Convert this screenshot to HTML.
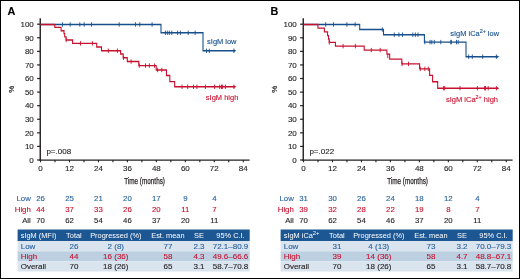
<!DOCTYPE html>
<html><head><meta charset="utf-8"><style>
html,body{margin:0;padding:0;background:#fff;}
svg{display:block;will-change:transform;}
text{font-family:"Liberation Sans",sans-serif;}
</style></head><body>
<svg width="520" height="279" viewBox="0 0 520 279">
<rect x="0" y="0" width="520" height="279" fill="#fff"/>
<text x="7.5" y="15.0" font-size="10.8" font-weight="bold" fill="#000" stroke="#000" stroke-width="0.12">A</text>
<line x1="40.25" y1="18.2" x2="40.25" y2="160.8" stroke="#231f20" stroke-width="1.4"/>
<line x1="37.1" y1="160.00" x2="40.5" y2="160.00" stroke="#231f20" stroke-width="1.2"/>
<text x="33.8" y="162.75" font-size="8.0" text-anchor="end" fill="#231f20" stroke="#231f20" stroke-width="0.12">0</text>
<line x1="37.1" y1="146.42" x2="40.5" y2="146.42" stroke="#231f20" stroke-width="1.2"/>
<text x="33.8" y="149.17" font-size="8.0" text-anchor="end" fill="#231f20" stroke="#231f20" stroke-width="0.12">10</text>
<line x1="37.1" y1="132.84" x2="40.5" y2="132.84" stroke="#231f20" stroke-width="1.2"/>
<text x="33.8" y="135.59" font-size="8.0" text-anchor="end" fill="#231f20" stroke="#231f20" stroke-width="0.12">20</text>
<line x1="37.1" y1="119.26" x2="40.5" y2="119.26" stroke="#231f20" stroke-width="1.2"/>
<text x="33.8" y="122.01" font-size="8.0" text-anchor="end" fill="#231f20" stroke="#231f20" stroke-width="0.12">30</text>
<line x1="37.1" y1="105.68" x2="40.5" y2="105.68" stroke="#231f20" stroke-width="1.2"/>
<text x="33.8" y="108.43" font-size="8.0" text-anchor="end" fill="#231f20" stroke="#231f20" stroke-width="0.12">40</text>
<line x1="37.1" y1="92.10" x2="40.5" y2="92.10" stroke="#231f20" stroke-width="1.2"/>
<text x="33.8" y="94.85" font-size="8.0" text-anchor="end" fill="#231f20" stroke="#231f20" stroke-width="0.12">50</text>
<line x1="37.1" y1="78.52" x2="40.5" y2="78.52" stroke="#231f20" stroke-width="1.2"/>
<text x="33.8" y="81.27" font-size="8.0" text-anchor="end" fill="#231f20" stroke="#231f20" stroke-width="0.12">60</text>
<line x1="37.1" y1="64.94" x2="40.5" y2="64.94" stroke="#231f20" stroke-width="1.2"/>
<text x="33.8" y="67.69" font-size="8.0" text-anchor="end" fill="#231f20" stroke="#231f20" stroke-width="0.12">70</text>
<line x1="37.1" y1="51.36" x2="40.5" y2="51.36" stroke="#231f20" stroke-width="1.2"/>
<text x="33.8" y="54.11" font-size="8.0" text-anchor="end" fill="#231f20" stroke="#231f20" stroke-width="0.12">80</text>
<line x1="37.1" y1="37.78" x2="40.5" y2="37.78" stroke="#231f20" stroke-width="1.2"/>
<text x="33.8" y="40.53" font-size="8.0" text-anchor="end" fill="#231f20" stroke="#231f20" stroke-width="0.12">90</text>
<line x1="37.1" y1="24.20" x2="40.5" y2="24.20" stroke="#231f20" stroke-width="1.2"/>
<text x="33.8" y="26.95" font-size="8.0" text-anchor="end" fill="#231f20" stroke="#231f20" stroke-width="0.12">100</text>
<line x1="39.6" y1="160.1" x2="249.6" y2="160.1" stroke="#231f20" stroke-width="1.4"/>
<line x1="40.50" y1="160" x2="40.50" y2="162.3" stroke="#231f20" stroke-width="1.1"/>
<text x="40.50" y="171.0" font-size="8.0" text-anchor="middle" fill="#231f20" stroke="#231f20" stroke-width="0.12">0</text>
<line x1="54.98" y1="160" x2="54.98" y2="162.3" stroke="#231f20" stroke-width="1.1"/>
<line x1="69.47" y1="160" x2="69.47" y2="162.3" stroke="#231f20" stroke-width="1.1"/>
<text x="69.47" y="171.0" font-size="8.0" text-anchor="middle" fill="#231f20" stroke="#231f20" stroke-width="0.12">12</text>
<line x1="83.95" y1="160" x2="83.95" y2="162.3" stroke="#231f20" stroke-width="1.1"/>
<line x1="98.44" y1="160" x2="98.44" y2="162.3" stroke="#231f20" stroke-width="1.1"/>
<text x="98.44" y="171.0" font-size="8.0" text-anchor="middle" fill="#231f20" stroke="#231f20" stroke-width="0.12">24</text>
<line x1="112.92" y1="160" x2="112.92" y2="162.3" stroke="#231f20" stroke-width="1.1"/>
<line x1="127.40" y1="160" x2="127.40" y2="162.3" stroke="#231f20" stroke-width="1.1"/>
<text x="127.40" y="171.0" font-size="8.0" text-anchor="middle" fill="#231f20" stroke="#231f20" stroke-width="0.12">36</text>
<line x1="141.89" y1="160" x2="141.89" y2="162.3" stroke="#231f20" stroke-width="1.1"/>
<line x1="156.37" y1="160" x2="156.37" y2="162.3" stroke="#231f20" stroke-width="1.1"/>
<text x="156.37" y="171.0" font-size="8.0" text-anchor="middle" fill="#231f20" stroke="#231f20" stroke-width="0.12">48</text>
<line x1="170.86" y1="160" x2="170.86" y2="162.3" stroke="#231f20" stroke-width="1.1"/>
<line x1="185.34" y1="160" x2="185.34" y2="162.3" stroke="#231f20" stroke-width="1.1"/>
<text x="185.34" y="171.0" font-size="8.0" text-anchor="middle" fill="#231f20" stroke="#231f20" stroke-width="0.12">60</text>
<line x1="199.82" y1="160" x2="199.82" y2="162.3" stroke="#231f20" stroke-width="1.1"/>
<line x1="214.31" y1="160" x2="214.31" y2="162.3" stroke="#231f20" stroke-width="1.1"/>
<text x="214.31" y="171.0" font-size="8.0" text-anchor="middle" fill="#231f20" stroke="#231f20" stroke-width="0.12">72</text>
<line x1="228.79" y1="160" x2="228.79" y2="162.3" stroke="#231f20" stroke-width="1.1"/>
<line x1="243.28" y1="160" x2="243.28" y2="162.3" stroke="#231f20" stroke-width="1.1"/>
<text x="243.28" y="171.0" font-size="8.0" text-anchor="middle" fill="#231f20" stroke="#231f20" stroke-width="0.12">84</text>
<text x="124.2" y="183.9" font-size="8.6" textLength="40.8" lengthAdjust="spacingAndGlyphs" fill="#231f20" stroke="#231f20" stroke-width="0.25">Time (months)</text>
<text transform="translate(14.4,89.3) rotate(-90)" font-size="7.9" text-anchor="middle" fill="#231f20" stroke="#231f20" stroke-width="0.25">%</text>
<text x="46.4" y="153.5" font-size="8" fill="#231f20" stroke="#231f20" stroke-width="0.12">p=.008</text>
<path transform="scale(0.78,1)" d="M51.923,24.45H206.410V32.8H260.256V50.8H300.641" stroke="#174f8c" stroke-width="1.4" fill="none" stroke-linejoin="miter"/>
<path d="M62.50,22.25V26.65M70.20,22.25V26.65M79.80,22.25V26.65M84.20,22.25V26.65M91.50,22.25V26.65M119.20,22.25V26.65M135.50,22.25V26.65M139.80,22.25V26.65M152.10,22.25V26.65M165.40,30.60V35.00M167.30,30.60V35.00M169.30,30.60V35.00M171.80,30.60V35.00M177.60,30.60V35.00M180.35,30.60V35.00M188.20,30.60V35.00M195.10,30.60V35.00M206.50,48.60V53.00M209.30,48.60V53.00M233.90,48.60V53.00" stroke="#174f8c" stroke-width="0.9" fill="none"/>
<path transform="scale(0.78,1)" d="M51.923,24.45H70.256V27.4H78.333V30.7H82.051V33.6H82.949V36.9H84.744V40.0H93.077V43.4H123.974V47.0H130.128V50.7H154.615V54.0H157.821V57.7H163.205V61.55H177.949V65.6H200.256V70.0H213.462V75.5H217.692V81.6H223.974V86.8H300.641" stroke="#c8102e" stroke-width="1.4" fill="none" stroke-linejoin="miter"/>
<path d="M66.20,37.80V42.20M80.50,41.20V45.60M92.40,41.20V45.60M108.30,48.50V52.90M117.40,48.50V52.90M123.50,55.50V59.90M131.10,59.35V63.75M139.30,63.40V67.80M145.50,63.40V67.80M149.40,63.40V67.80M154.60,63.40V67.80M157.60,67.80V72.20M161.80,67.80V72.20M182.00,84.60V89.00M187.70,84.60V89.00M193.50,84.60V89.00M196.90,84.60V89.00M205.40,84.60V89.00M214.60,84.60V89.00M219.70,84.60V89.00M221.50,84.60V89.00M222.40,84.60V89.00M225.40,84.60V89.00M233.90,84.60V89.00" stroke="#c8102e" stroke-width="0.9" fill="none"/>
<path d="M233.90,49.55L236.40,50.80L233.90,52.05Z" fill="#174f8c"/>
<path d="M233.90,85.55L236.40,86.80L233.90,88.05Z" fill="#c8102e"/>
<text x="207.1" y="44.1" font-size="7.45" fill="#174f8c" stroke="#174f8c" stroke-width="0.12">sIgM low</text>
<text x="205.8" y="99.7" font-size="7.5" fill="#c8102e" stroke="#c8102e" stroke-width="0.12">sIgM high</text>
<text x="30.8" y="200.6" font-size="7.8" text-anchor="end" fill="#2a62a0" stroke="#2a62a0" stroke-width="0.12">Low</text>
<text x="40.50" y="200.6" font-size="7.8" text-anchor="middle" fill="#2a62a0" stroke="#2a62a0" stroke-width="0.12">26</text>
<text x="69.47" y="200.6" font-size="7.8" text-anchor="middle" fill="#2a62a0" stroke="#2a62a0" stroke-width="0.12">25</text>
<text x="98.44" y="200.6" font-size="7.8" text-anchor="middle" fill="#2a62a0" stroke="#2a62a0" stroke-width="0.12">21</text>
<text x="127.40" y="200.6" font-size="7.8" text-anchor="middle" fill="#2a62a0" stroke="#2a62a0" stroke-width="0.12">20</text>
<text x="156.37" y="200.6" font-size="7.8" text-anchor="middle" fill="#2a62a0" stroke="#2a62a0" stroke-width="0.12">17</text>
<text x="185.34" y="200.6" font-size="7.8" text-anchor="middle" fill="#2a62a0" stroke="#2a62a0" stroke-width="0.12">9</text>
<text x="214.31" y="200.6" font-size="7.8" text-anchor="middle" fill="#2a62a0" stroke="#2a62a0" stroke-width="0.12">4</text>
<text x="30.8" y="211.6" font-size="7.8" text-anchor="end" fill="#c8102e" stroke="#c8102e" stroke-width="0.12">High</text>
<text x="40.50" y="211.6" font-size="7.8" text-anchor="middle" fill="#c8102e" stroke="#c8102e" stroke-width="0.12">44</text>
<text x="69.47" y="211.6" font-size="7.8" text-anchor="middle" fill="#c8102e" stroke="#c8102e" stroke-width="0.12">37</text>
<text x="98.44" y="211.6" font-size="7.8" text-anchor="middle" fill="#c8102e" stroke="#c8102e" stroke-width="0.12">33</text>
<text x="127.40" y="211.6" font-size="7.8" text-anchor="middle" fill="#c8102e" stroke="#c8102e" stroke-width="0.12">26</text>
<text x="156.37" y="211.6" font-size="7.8" text-anchor="middle" fill="#c8102e" stroke="#c8102e" stroke-width="0.12">20</text>
<text x="185.34" y="211.6" font-size="7.8" text-anchor="middle" fill="#c8102e" stroke="#c8102e" stroke-width="0.12">11</text>
<text x="214.31" y="211.6" font-size="7.8" text-anchor="middle" fill="#c8102e" stroke="#c8102e" stroke-width="0.12">7</text>
<text x="30.8" y="222.6" font-size="7.8" text-anchor="end" fill="#231f20" stroke="#231f20" stroke-width="0.12">All</text>
<text x="40.50" y="222.6" font-size="7.8" text-anchor="middle" fill="#231f20" stroke="#231f20" stroke-width="0.12">70</text>
<text x="69.47" y="222.6" font-size="7.8" text-anchor="middle" fill="#231f20" stroke="#231f20" stroke-width="0.12">62</text>
<text x="98.44" y="222.6" font-size="7.8" text-anchor="middle" fill="#231f20" stroke="#231f20" stroke-width="0.12">54</text>
<text x="127.40" y="222.6" font-size="7.8" text-anchor="middle" fill="#231f20" stroke="#231f20" stroke-width="0.12">46</text>
<text x="156.37" y="222.6" font-size="7.8" text-anchor="middle" fill="#231f20" stroke="#231f20" stroke-width="0.12">37</text>
<text x="185.34" y="222.6" font-size="7.8" text-anchor="middle" fill="#231f20" stroke="#231f20" stroke-width="0.12">20</text>
<text x="214.31" y="222.6" font-size="7.8" text-anchor="middle" fill="#231f20" stroke="#231f20" stroke-width="0.12">11</text>
<rect x="17.6" y="229.5" width="232.10" height="11.5" fill="#1d5793"/>
<rect x="17.6" y="241" width="232.10" height="10.3" fill="#dae4ee"/>
<rect x="17.6" y="251.3" width="232.10" height="10.1" fill="#bcd0e2"/>
<rect x="17.6" y="261.4" width="232.10" height="10.1" fill="#dae4ee"/>
<text x="20.7" y="237.9" font-size="7.4" text-anchor="start" fill="#fff">sIgM (MFI)</text>
<text x="73.9" y="237.9" font-size="7.4" text-anchor="middle" fill="#fff">Total</text>
<text x="115.8" y="237.9" font-size="7.4" text-anchor="middle" fill="#fff">Progressed (%)</text>
<text x="167.9" y="237.9" font-size="7.4" text-anchor="middle" fill="#fff">Est. mean</text>
<text x="199" y="237.9" font-size="7.4" text-anchor="middle" fill="#fff">SE</text>
<text x="230.5" y="237.9" font-size="7.4" text-anchor="middle" fill="#fff">95% C.I.</text>
<text x="20.7" y="249.1" font-size="8.0" text-anchor="start" fill="#2a62a0" stroke="#2a62a0" stroke-width="0.12">Low</text>
<text x="73.9" y="249.1" font-size="8.0" text-anchor="middle" fill="#2a62a0" stroke="#2a62a0" stroke-width="0.12">26</text>
<text x="115.8" y="249.1" font-size="8.0" text-anchor="middle" fill="#2a62a0" stroke="#2a62a0" stroke-width="0.12">2 (8)</text>
<text x="167.9" y="249.1" font-size="8.0" text-anchor="middle" fill="#2a62a0" stroke="#2a62a0" stroke-width="0.12">77</text>
<text x="199" y="249.1" font-size="8.0" text-anchor="middle" fill="#2a62a0" stroke="#2a62a0" stroke-width="0.12">2.3</text>
<text x="230.5" y="249.1" font-size="8.0" text-anchor="middle" fill="#2a62a0" stroke="#2a62a0" stroke-width="0.12">72.1–80.9</text>
<text x="20.7" y="259.1" font-size="8.0" text-anchor="start" fill="#c8102e" stroke="#c8102e" stroke-width="0.12">High</text>
<text x="73.9" y="259.1" font-size="8.0" text-anchor="middle" fill="#c8102e" stroke="#c8102e" stroke-width="0.12">44</text>
<text x="115.8" y="259.1" font-size="8.0" text-anchor="middle" fill="#c8102e" stroke="#c8102e" stroke-width="0.12">16 (36)</text>
<text x="167.9" y="259.1" font-size="8.0" text-anchor="middle" fill="#c8102e" stroke="#c8102e" stroke-width="0.12">58</text>
<text x="199" y="259.1" font-size="8.0" text-anchor="middle" fill="#c8102e" stroke="#c8102e" stroke-width="0.12">4.3</text>
<text x="230.5" y="259.1" font-size="8.0" text-anchor="middle" fill="#c8102e" stroke="#c8102e" stroke-width="0.12">49.6–66.6</text>
<text x="20.7" y="269.1" font-size="8.0" text-anchor="start" fill="#231f20" stroke="#231f20" stroke-width="0.12">Overall</text>
<text x="73.9" y="269.1" font-size="8.0" text-anchor="middle" fill="#231f20" stroke="#231f20" stroke-width="0.12">70</text>
<text x="115.8" y="269.1" font-size="8.0" text-anchor="middle" fill="#231f20" stroke="#231f20" stroke-width="0.12">18 (26)</text>
<text x="167.9" y="269.1" font-size="8.0" text-anchor="middle" fill="#231f20" stroke="#231f20" stroke-width="0.12">65</text>
<text x="199" y="269.1" font-size="8.0" text-anchor="middle" fill="#231f20" stroke="#231f20" stroke-width="0.12">3.1</text>
<text x="230.5" y="269.1" font-size="8.0" text-anchor="middle" fill="#231f20" stroke="#231f20" stroke-width="0.12">58.7–70.8</text>
<text x="270.5" y="15.0" font-size="10.8" font-weight="bold" fill="#000" stroke="#000" stroke-width="0.12">B</text>
<line x1="303.25" y1="18.2" x2="303.25" y2="160.8" stroke="#231f20" stroke-width="1.4"/>
<line x1="300.1" y1="160.00" x2="303.5" y2="160.00" stroke="#231f20" stroke-width="1.2"/>
<text x="296.8" y="162.75" font-size="8.0" text-anchor="end" fill="#231f20" stroke="#231f20" stroke-width="0.12">0</text>
<line x1="300.1" y1="146.42" x2="303.5" y2="146.42" stroke="#231f20" stroke-width="1.2"/>
<text x="296.8" y="149.17" font-size="8.0" text-anchor="end" fill="#231f20" stroke="#231f20" stroke-width="0.12">10</text>
<line x1="300.1" y1="132.84" x2="303.5" y2="132.84" stroke="#231f20" stroke-width="1.2"/>
<text x="296.8" y="135.59" font-size="8.0" text-anchor="end" fill="#231f20" stroke="#231f20" stroke-width="0.12">20</text>
<line x1="300.1" y1="119.26" x2="303.5" y2="119.26" stroke="#231f20" stroke-width="1.2"/>
<text x="296.8" y="122.01" font-size="8.0" text-anchor="end" fill="#231f20" stroke="#231f20" stroke-width="0.12">30</text>
<line x1="300.1" y1="105.68" x2="303.5" y2="105.68" stroke="#231f20" stroke-width="1.2"/>
<text x="296.8" y="108.43" font-size="8.0" text-anchor="end" fill="#231f20" stroke="#231f20" stroke-width="0.12">40</text>
<line x1="300.1" y1="92.10" x2="303.5" y2="92.10" stroke="#231f20" stroke-width="1.2"/>
<text x="296.8" y="94.85" font-size="8.0" text-anchor="end" fill="#231f20" stroke="#231f20" stroke-width="0.12">50</text>
<line x1="300.1" y1="78.52" x2="303.5" y2="78.52" stroke="#231f20" stroke-width="1.2"/>
<text x="296.8" y="81.27" font-size="8.0" text-anchor="end" fill="#231f20" stroke="#231f20" stroke-width="0.12">60</text>
<line x1="300.1" y1="64.94" x2="303.5" y2="64.94" stroke="#231f20" stroke-width="1.2"/>
<text x="296.8" y="67.69" font-size="8.0" text-anchor="end" fill="#231f20" stroke="#231f20" stroke-width="0.12">70</text>
<line x1="300.1" y1="51.36" x2="303.5" y2="51.36" stroke="#231f20" stroke-width="1.2"/>
<text x="296.8" y="54.11" font-size="8.0" text-anchor="end" fill="#231f20" stroke="#231f20" stroke-width="0.12">80</text>
<line x1="300.1" y1="37.78" x2="303.5" y2="37.78" stroke="#231f20" stroke-width="1.2"/>
<text x="296.8" y="40.53" font-size="8.0" text-anchor="end" fill="#231f20" stroke="#231f20" stroke-width="0.12">90</text>
<line x1="300.1" y1="24.20" x2="303.5" y2="24.20" stroke="#231f20" stroke-width="1.2"/>
<text x="296.8" y="26.95" font-size="8.0" text-anchor="end" fill="#231f20" stroke="#231f20" stroke-width="0.12">100</text>
<line x1="302.6" y1="160.1" x2="512.6" y2="160.1" stroke="#231f20" stroke-width="1.4"/>
<line x1="303.50" y1="160" x2="303.50" y2="162.3" stroke="#231f20" stroke-width="1.1"/>
<text x="303.50" y="171.0" font-size="8.0" text-anchor="middle" fill="#231f20" stroke="#231f20" stroke-width="0.12">0</text>
<line x1="317.98" y1="160" x2="317.98" y2="162.3" stroke="#231f20" stroke-width="1.1"/>
<line x1="332.47" y1="160" x2="332.47" y2="162.3" stroke="#231f20" stroke-width="1.1"/>
<text x="332.47" y="171.0" font-size="8.0" text-anchor="middle" fill="#231f20" stroke="#231f20" stroke-width="0.12">12</text>
<line x1="346.95" y1="160" x2="346.95" y2="162.3" stroke="#231f20" stroke-width="1.1"/>
<line x1="361.44" y1="160" x2="361.44" y2="162.3" stroke="#231f20" stroke-width="1.1"/>
<text x="361.44" y="171.0" font-size="8.0" text-anchor="middle" fill="#231f20" stroke="#231f20" stroke-width="0.12">24</text>
<line x1="375.92" y1="160" x2="375.92" y2="162.3" stroke="#231f20" stroke-width="1.1"/>
<line x1="390.40" y1="160" x2="390.40" y2="162.3" stroke="#231f20" stroke-width="1.1"/>
<text x="390.40" y="171.0" font-size="8.0" text-anchor="middle" fill="#231f20" stroke="#231f20" stroke-width="0.12">36</text>
<line x1="404.89" y1="160" x2="404.89" y2="162.3" stroke="#231f20" stroke-width="1.1"/>
<line x1="419.37" y1="160" x2="419.37" y2="162.3" stroke="#231f20" stroke-width="1.1"/>
<text x="419.37" y="171.0" font-size="8.0" text-anchor="middle" fill="#231f20" stroke="#231f20" stroke-width="0.12">48</text>
<line x1="433.86" y1="160" x2="433.86" y2="162.3" stroke="#231f20" stroke-width="1.1"/>
<line x1="448.34" y1="160" x2="448.34" y2="162.3" stroke="#231f20" stroke-width="1.1"/>
<text x="448.34" y="171.0" font-size="8.0" text-anchor="middle" fill="#231f20" stroke="#231f20" stroke-width="0.12">60</text>
<line x1="462.82" y1="160" x2="462.82" y2="162.3" stroke="#231f20" stroke-width="1.1"/>
<line x1="477.31" y1="160" x2="477.31" y2="162.3" stroke="#231f20" stroke-width="1.1"/>
<text x="477.31" y="171.0" font-size="8.0" text-anchor="middle" fill="#231f20" stroke="#231f20" stroke-width="0.12">72</text>
<line x1="491.79" y1="160" x2="491.79" y2="162.3" stroke="#231f20" stroke-width="1.1"/>
<line x1="506.28" y1="160" x2="506.28" y2="162.3" stroke="#231f20" stroke-width="1.1"/>
<text x="506.28" y="171.0" font-size="8.0" text-anchor="middle" fill="#231f20" stroke="#231f20" stroke-width="0.12">84</text>
<text x="387.2" y="183.9" font-size="8.6" textLength="40.8" lengthAdjust="spacingAndGlyphs" fill="#231f20" stroke="#231f20" stroke-width="0.25">Time (months)</text>
<text transform="translate(277.4,89.3) rotate(-90)" font-size="7.9" text-anchor="middle" fill="#231f20" stroke="#231f20" stroke-width="0.25">%</text>
<text x="309.4" y="153.5" font-size="8" fill="#231f20" stroke="#231f20" stroke-width="0.12">p=.022</text>
<path transform="scale(0.78,1)" d="M389.103,24.45H461.154V29.5H491.667V34.7H544.103V42.1H597.436V56.7H637.821" stroke="#174f8c" stroke-width="1.4" fill="none" stroke-linejoin="miter"/>
<path d="M325.70,22.25V26.65M333.50,22.25V26.65M346.90,22.25V26.65M355.10,22.25V26.65M382.30,27.30V31.70M394.30,32.50V36.90M398.90,32.50V36.90M402.50,32.50V36.90M412.80,32.50V36.90M415.40,32.50V36.90M418.00,32.50V36.90M424.80,39.90V44.30M430.00,39.90V44.30M431.80,39.90V44.30M434.30,39.90V44.30M440.80,39.90V44.30M450.80,39.90V44.30M451.30,39.90V44.30M456.50,39.90V44.30M458.20,39.90V44.30M468.70,54.50V58.90M472.30,54.50V58.90M482.70,54.50V58.90M496.40,54.50V58.90" stroke="#174f8c" stroke-width="0.9" fill="none"/>
<path transform="scale(0.78,1)" d="M389.103,24.45H407.564V28.1H415.897V31.9H420.000V35.6H421.154V39H422.051V42.4H430.000V46.1H466.923V50.1H496.026V54.1H499.615V59.1H515.128V63.9H537.949V68.9H550.769V75.4H554.615V81.7H561.154V88.2H637.821" stroke="#c8102e" stroke-width="1.4" fill="none" stroke-linejoin="miter"/>
<path d="M329.30,40.20V44.60M343.10,43.90V48.30M355.40,43.90V48.30M371.30,47.90V52.30M380.20,47.90V52.30M387.80,53.80V58.20M402.10,61.70V66.10M408.50,61.70V66.10M420.30,66.70V71.10M424.90,66.70V71.10M428.30,66.70V71.10M443.60,86.00V90.40M444.70,86.00V90.40M460.00,86.00V90.40M477.40,86.00V90.40M484.60,86.00V90.40M485.50,86.00V90.40M488.20,86.00V90.40M496.40,86.00V90.40" stroke="#c8102e" stroke-width="0.9" fill="none"/>
<path d="M496.90,55.45L499.40,56.70L496.90,57.95Z" fill="#174f8c"/>
<path d="M496.90,86.95L499.40,88.20L496.90,89.45Z" fill="#c8102e"/>
<text x="450.3" y="36.0" font-size="7.45" fill="#174f8c" stroke="#174f8c" stroke-width="0.12">sIgM iCa<tspan font-size="5.4" dy="-3">2+</tspan><tspan dy="3"> low</tspan></text>
<text x="446.0" y="102.4" font-size="7.5" fill="#c8102e" stroke="#c8102e" stroke-width="0.12">sIgM iCa<tspan font-size="5.4" dy="-3">2+</tspan><tspan dy="3"> high</tspan></text>
<text x="293.8" y="200.6" font-size="7.8" text-anchor="end" fill="#2a62a0" stroke="#2a62a0" stroke-width="0.12">Low</text>
<text x="303.50" y="200.6" font-size="7.8" text-anchor="middle" fill="#2a62a0" stroke="#2a62a0" stroke-width="0.12">31</text>
<text x="332.47" y="200.6" font-size="7.8" text-anchor="middle" fill="#2a62a0" stroke="#2a62a0" stroke-width="0.12">30</text>
<text x="361.44" y="200.6" font-size="7.8" text-anchor="middle" fill="#2a62a0" stroke="#2a62a0" stroke-width="0.12">26</text>
<text x="390.40" y="200.6" font-size="7.8" text-anchor="middle" fill="#2a62a0" stroke="#2a62a0" stroke-width="0.12">24</text>
<text x="419.37" y="200.6" font-size="7.8" text-anchor="middle" fill="#2a62a0" stroke="#2a62a0" stroke-width="0.12">18</text>
<text x="448.34" y="200.6" font-size="7.8" text-anchor="middle" fill="#2a62a0" stroke="#2a62a0" stroke-width="0.12">12</text>
<text x="477.31" y="200.6" font-size="7.8" text-anchor="middle" fill="#2a62a0" stroke="#2a62a0" stroke-width="0.12">4</text>
<text x="293.8" y="211.6" font-size="7.8" text-anchor="end" fill="#c8102e" stroke="#c8102e" stroke-width="0.12">High</text>
<text x="303.50" y="211.6" font-size="7.8" text-anchor="middle" fill="#c8102e" stroke="#c8102e" stroke-width="0.12">39</text>
<text x="332.47" y="211.6" font-size="7.8" text-anchor="middle" fill="#c8102e" stroke="#c8102e" stroke-width="0.12">32</text>
<text x="361.44" y="211.6" font-size="7.8" text-anchor="middle" fill="#c8102e" stroke="#c8102e" stroke-width="0.12">28</text>
<text x="390.40" y="211.6" font-size="7.8" text-anchor="middle" fill="#c8102e" stroke="#c8102e" stroke-width="0.12">22</text>
<text x="419.37" y="211.6" font-size="7.8" text-anchor="middle" fill="#c8102e" stroke="#c8102e" stroke-width="0.12">19</text>
<text x="448.34" y="211.6" font-size="7.8" text-anchor="middle" fill="#c8102e" stroke="#c8102e" stroke-width="0.12">8</text>
<text x="477.31" y="211.6" font-size="7.8" text-anchor="middle" fill="#c8102e" stroke="#c8102e" stroke-width="0.12">7</text>
<text x="293.8" y="222.6" font-size="7.8" text-anchor="end" fill="#231f20" stroke="#231f20" stroke-width="0.12">All</text>
<text x="303.50" y="222.6" font-size="7.8" text-anchor="middle" fill="#231f20" stroke="#231f20" stroke-width="0.12">70</text>
<text x="332.47" y="222.6" font-size="7.8" text-anchor="middle" fill="#231f20" stroke="#231f20" stroke-width="0.12">62</text>
<text x="361.44" y="222.6" font-size="7.8" text-anchor="middle" fill="#231f20" stroke="#231f20" stroke-width="0.12">54</text>
<text x="390.40" y="222.6" font-size="7.8" text-anchor="middle" fill="#231f20" stroke="#231f20" stroke-width="0.12">46</text>
<text x="419.37" y="222.6" font-size="7.8" text-anchor="middle" fill="#231f20" stroke="#231f20" stroke-width="0.12">37</text>
<text x="448.34" y="222.6" font-size="7.8" text-anchor="middle" fill="#231f20" stroke="#231f20" stroke-width="0.12">20</text>
<text x="477.31" y="222.6" font-size="7.8" text-anchor="middle" fill="#231f20" stroke="#231f20" stroke-width="0.12">11</text>
<rect x="280.6" y="229.5" width="232.10" height="11.5" fill="#1d5793"/>
<rect x="280.6" y="241" width="232.10" height="10.3" fill="#dae4ee"/>
<rect x="280.6" y="251.3" width="232.10" height="10.1" fill="#bcd0e2"/>
<rect x="280.6" y="261.4" width="232.10" height="10.1" fill="#dae4ee"/>
<text x="283.7" y="237.9" font-size="7.4" text-anchor="start" fill="#fff">sIgM iCa<tspan font-size="5.8" dy="-2.9">2+</tspan></text>
<text x="336.9" y="237.9" font-size="7.4" text-anchor="middle" fill="#fff">Total</text>
<text x="378.8" y="237.9" font-size="7.4" text-anchor="middle" fill="#fff">Progressed (%)</text>
<text x="430.9" y="237.9" font-size="7.4" text-anchor="middle" fill="#fff">Est. mean</text>
<text x="462" y="237.9" font-size="7.4" text-anchor="middle" fill="#fff">SE</text>
<text x="493.5" y="237.9" font-size="7.4" text-anchor="middle" fill="#fff">95% C.I.</text>
<text x="283.7" y="249.1" font-size="8.0" text-anchor="start" fill="#2a62a0" stroke="#2a62a0" stroke-width="0.12">Low</text>
<text x="336.9" y="249.1" font-size="8.0" text-anchor="middle" fill="#2a62a0" stroke="#2a62a0" stroke-width="0.12">31</text>
<text x="378.8" y="249.1" font-size="8.0" text-anchor="middle" fill="#2a62a0" stroke="#2a62a0" stroke-width="0.12">4 (13)</text>
<text x="430.9" y="249.1" font-size="8.0" text-anchor="middle" fill="#2a62a0" stroke="#2a62a0" stroke-width="0.12">73</text>
<text x="462" y="249.1" font-size="8.0" text-anchor="middle" fill="#2a62a0" stroke="#2a62a0" stroke-width="0.12">3.2</text>
<text x="493.5" y="249.1" font-size="8.0" text-anchor="middle" fill="#2a62a0" stroke="#2a62a0" stroke-width="0.12">70.0–79.3</text>
<text x="283.7" y="259.1" font-size="8.0" text-anchor="start" fill="#c8102e" stroke="#c8102e" stroke-width="0.12">High</text>
<text x="336.9" y="259.1" font-size="8.0" text-anchor="middle" fill="#c8102e" stroke="#c8102e" stroke-width="0.12">39</text>
<text x="378.8" y="259.1" font-size="8.0" text-anchor="middle" fill="#c8102e" stroke="#c8102e" stroke-width="0.12">14 (36)</text>
<text x="430.9" y="259.1" font-size="8.0" text-anchor="middle" fill="#c8102e" stroke="#c8102e" stroke-width="0.12">58</text>
<text x="462" y="259.1" font-size="8.0" text-anchor="middle" fill="#c8102e" stroke="#c8102e" stroke-width="0.12">4.7</text>
<text x="493.5" y="259.1" font-size="8.0" text-anchor="middle" fill="#c8102e" stroke="#c8102e" stroke-width="0.12">48.8–67.1</text>
<text x="283.7" y="269.1" font-size="8.0" text-anchor="start" fill="#231f20" stroke="#231f20" stroke-width="0.12">Overall</text>
<text x="336.9" y="269.1" font-size="8.0" text-anchor="middle" fill="#231f20" stroke="#231f20" stroke-width="0.12">70</text>
<text x="378.8" y="269.1" font-size="8.0" text-anchor="middle" fill="#231f20" stroke="#231f20" stroke-width="0.12">18 (26)</text>
<text x="430.9" y="269.1" font-size="8.0" text-anchor="middle" fill="#231f20" stroke="#231f20" stroke-width="0.12">65</text>
<text x="462" y="269.1" font-size="8.0" text-anchor="middle" fill="#231f20" stroke="#231f20" stroke-width="0.12">3.1</text>
<text x="493.5" y="269.1" font-size="8.0" text-anchor="middle" fill="#231f20" stroke="#231f20" stroke-width="0.12">58.7–70.8</text>
<rect x="0.5" y="0.5" width="519" height="278" fill="none" stroke="#000" stroke-width="1"/>
</svg>
</body></html>
